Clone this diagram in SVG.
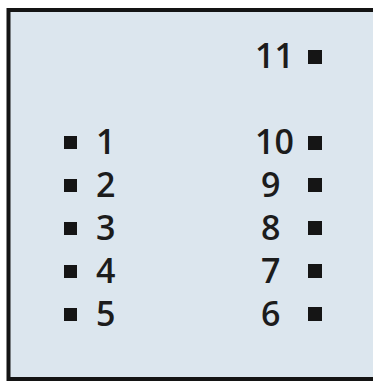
<svg xmlns="http://www.w3.org/2000/svg" width="373" height="381" viewBox="0 0 373 381">
<style>
.lbl{font-family:"Open Sans","Noto Sans",sans-serif;font-weight:600;font-size:34px;fill:#1c1c1c}
.pin{fill:#151515}
</style>
<rect x="0" y="0" width="373" height="381" fill="#ffffff"/>
<rect id="frame" x="8.5" y="10" width="400" height="369" fill="#dce6ee" stroke="#141414" stroke-width="4"/>
<g id="connectors"></g>
<g id="pin1"><rect class="pin" x="64" y="136" width="13" height="13"/><text class="lbl" x="96" y="154">1</text></g>
<g id="pin2"><rect class="pin" x="64" y="179" width="13" height="13"/><text class="lbl" x="96" y="197">2</text></g>
<g id="pin3"><rect class="pin" x="64" y="222" width="13" height="13"/><text class="lbl" x="96" y="240">3</text></g>
<g id="pin4"><rect class="pin" x="64" y="265" width="13" height="13"/><text class="lbl" x="96" y="283">4</text></g>
<g id="pin5"><rect class="pin" x="64" y="308" width="13" height="13"/><text class="lbl" x="96" y="326">5</text></g>
<g id="pin6"><rect class="pin" x="308" y="307" width="14" height="14"/><text class="lbl" x="261" y="326">6</text></g>
<g id="pin7"><rect class="pin" x="308" y="264" width="14" height="14"/><text class="lbl" x="261" y="283">7</text></g>
<g id="pin8"><rect class="pin" x="308" y="221" width="14" height="14"/><text class="lbl" x="261" y="240">8</text></g>
<g id="pin9"><rect class="pin" x="308" y="178" width="14" height="14"/><text class="lbl" x="261" y="197">9</text></g>
<g id="pin10"><rect class="pin" x="308" y="136" width="14" height="14"/><text class="lbl" x="255" y="154">10</text></g>
<g id="pin11"><rect class="pin" x="308" y="50" width="14" height="14"/><text class="lbl" x="255" y="68">11</text></g>
</svg>
